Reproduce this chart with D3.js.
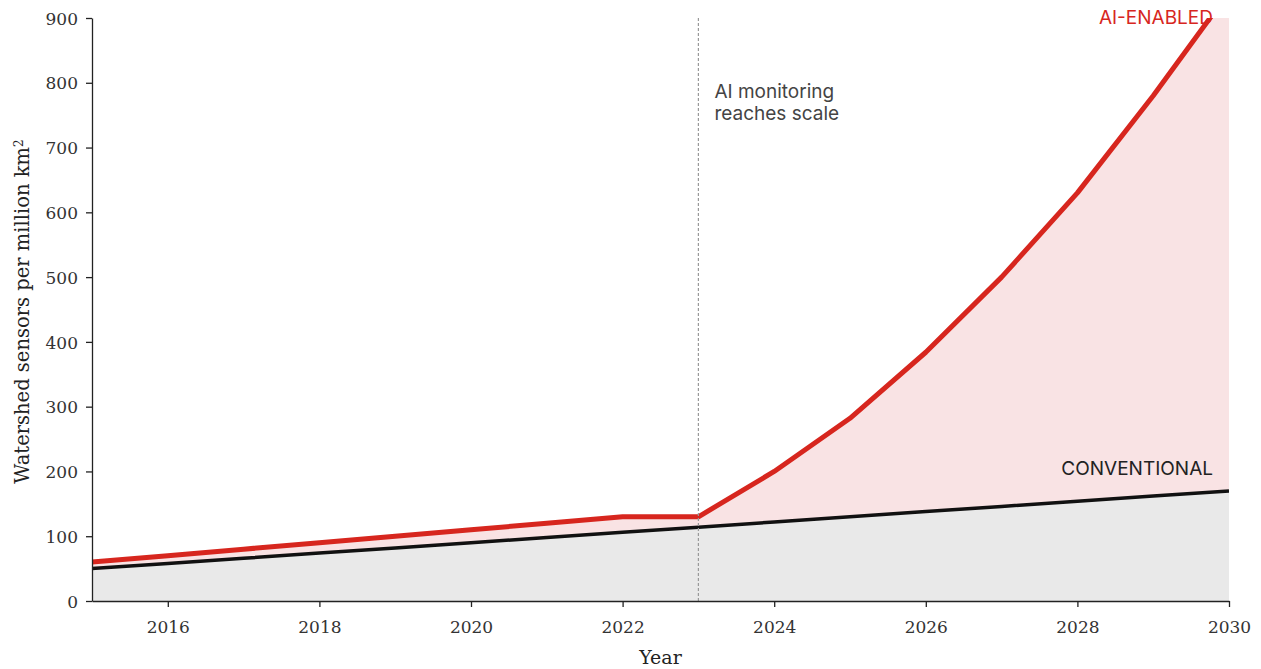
<!DOCTYPE html>
<html lang="en">
<head>
    <meta charset="UTF-8">
    <title>Watershed sensors</title>
    <script src="https://d3js.org/d3.v7.min.js"></script>
    <style>
        body { margin: 0; background: #fff; }
        .axis text { font-family: "DejaVu Serif", serif; font-size: 17px; fill: #333; }
        .axis path, .axis line { stroke: #222; stroke-width: 1.3px; }
        .note { font-family: Inter, sans-serif; font-size: 19px; }
    </style>
</head>
<body>
    <svg width="1261" height="669"></svg>

    <script>
        // values
        const years = [2015, 2016, 2017, 2018, 2019, 2020, 2021, 2022, 2023, 2024, 2025, 2026, 2027, 2028, 2029, 2030];
        const aiEnabled = [60, 70, 80, 90, 100, 110, 120, 130, 130, 200, 282, 384, 500, 630, 780, 940];
        const conventional = [50, 58, 66, 74, 82, 90, 98, 106, 114, 122, 130, 138, 146, 154, 162, 170];
        const xTicks = [2016, 2018, 2020, 2022, 2024, 2026, 2028, 2030];
        const yTicks = [0, 100, 200, 300, 400, 500, 600, 700, 800, 900];
        const scaleYear = 2023;

        const rows = years.map((y, i) => ({ year: y, ai: aiEnabled[i], conv: conventional[i] }));

        const svg = d3.select("svg");
        const margin = { left: 92, right: 32, top: 18, bottom: 68 };
        const width = 1261, height = 669;

        const x = d3.scaleLinear().domain([2015, 2030]).range([margin.left, width - margin.right]);
        const y = d3.scaleLinear().domain([0, 900]).range([height - margin.bottom, margin.top]);

        svg.append("clipPath").attr("id", "plot")
            .append("rect")
            .attr("x", x(2015)).attr("y", y(900))
            .attr("width", x(2030) - x(2015)).attr("height", y(0) - y(900));

        const g = svg.append("g").attr("clip-path", "url(#plot)");

        // pink band between the two series
        g.append("path")
            .datum(rows)
            .attr("fill", "#f9e3e4")
            .attr("d", d3.area().x(d => x(d.year)).y0(d => y(d.conv)).y1(d => y(d.ai)));

        // grey area below conventional
        g.append("path")
            .datum(rows)
            .attr("fill", "#e9e9e9")
            .attr("d", d3.area().x(d => x(d.year)).y0(y(0)).y1(d => y(d.conv)));

        // marker for 2023
        svg.append("line")
            .attr("x1", x(scaleYear)).attr("x2", x(scaleYear))
            .attr("y1", y(900)).attr("y2", y(0))
            .attr("stroke", "#999").attr("stroke-width", 1.2)
            .attr("stroke-dasharray", "3,2");

        g.append("path")
            .datum(rows)
            .attr("fill", "none")
            .attr("stroke", "#111")
            .attr("stroke-width", 3.5)
            .attr("d", d3.line().x(d => x(d.year)).y(d => y(d.conv)));

        g.append("path")
            .datum(rows)
            .attr("fill", "none")
            .attr("stroke", "#d7261e")
            .attr("stroke-width", 5)
            .attr("stroke-linejoin", "round")
            .attr("d", d3.line().x(d => x(d.year)).y(d => y(d.ai)));

        // axes
        svg.append("g")
            .attr("class", "axis")
            .attr("transform", `translate(0,${y(0)})`)
            .call(d3.axisBottom(x).tickValues(xTicks).tickFormat(d3.format("d")).tickSize(6).tickSizeOuter(0).tickPadding(14));

        const yAxis = svg.append("g")
            .attr("class", "axis")
            .attr("transform", `translate(${x(2015)},0)`)
            .call(d3.axisLeft(y).tickValues(yTicks).tickSize(6).tickSizeOuter(0).tickPadding(8));

        yAxis.selectAll("text").attr("dy", "0.36em");

        svg.append("text")
            .attr("x", (x(2015) + x(2030)) / 2)
            .attr("y", 664)
            .attr("text-anchor", "middle")
            .style("font-family", "'DejaVu Serif', serif")
            .style("font-size", "19px")
            .style("fill", "#222")
            .text("Year");

        const ylab = svg.append("text")
            .attr("transform", `translate(29,${(y(0) + y(900)) / 2 + 2}) rotate(-90)`)
            .attr("text-anchor", "middle")
            .style("font-family", "'DejaVu Serif', serif")
            .style("font-size", "19.5px")
            .style("fill", "#222");
        ylab.append("tspan").text("Watershed sensors per million km");
        ylab.append("tspan").attr("dy", "-0.5em").style("font-size", "12px").text("2");

        // labels
        svg.append("text")
            .attr("class", "note")
            .attr("x", x(scaleYear) + 16)
            .attr("y", 98)
            .style("fill", "#444")
            .text("AI monitoring");
        svg.append("text")
            .attr("class", "note")
            .attr("x", x(scaleYear) + 16)
            .attr("y", 120)
            .style("fill", "#444")
            .text("reaches scale");

        svg.append("text")
            .attr("class", "note")
            .attr("x", 1213)
            .attr("y", 24)
            .attr("text-anchor", "end")
            .style("fill", "#d7261e")
            .text("AI-ENABLED");

        svg.append("text")
            .attr("class", "note")
            .attr("x", 1213)
            .attr("y", 475)
            .attr("text-anchor", "end")
            .style("fill", "#222")
            .text("CONVENTIONAL");
    </script>
</body>
</html>
